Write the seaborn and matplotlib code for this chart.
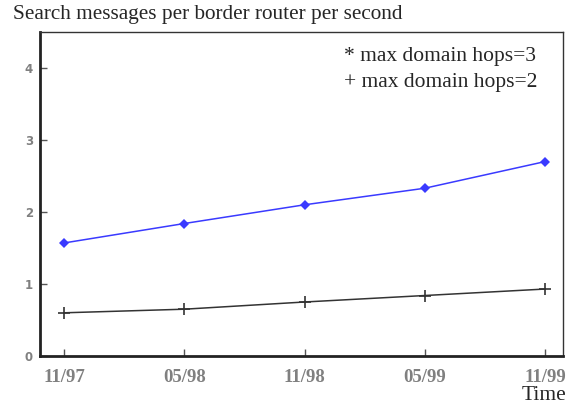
import numpy as np
import pandas as pd
import matplotlib
matplotlib.use('Agg')
import matplotlib.pyplot as plt
import seaborn as sns

periods = ['11/97', '05/98', '11/98', '05/99', '11/99']
hops3 = [1.57, 1.84, 2.10, 2.33, 2.70]
hops2 = [0.60, 0.65, 0.75, 0.84, 0.93]
y_ticks = [0, 1, 2, 3, 4]

pos = list(range(len(periods)))

sns.set_style('white')
plt.rcParams['font.family'] = ['DejaVu Sans']

fig = plt.figure(figsize=(5.74, 4.07), dpi=100)
ax = fig.add_axes([40 / 574, 51 / 407, 523 / 574, 324 / 407])

sns.lineplot(x=pos, y=hops3, color='#3a3aff', marker='D', markersize=5.5,
             markeredgewidth=0, linewidth=1.1, ax=ax)
sns.lineplot(x=pos, y=hops2, color='#333333', marker='+', markersize=8,
             markeredgecolor='#333333', markeredgewidth=1.2,
             linewidth=1.1, ax=ax)

ax.set_xlim(-0.2, 4.15)
ax.set_ylim(0, 4.5)
ax.set_xticks(pos)
ax.set_xticklabels(periods, family='Liberation Serif', fontweight='bold',
                   fontsize=13.5, color='#808080')
ax.set_yticks(y_ticks)
ax.set_yticklabels([str(t) for t in y_ticks], fontsize=8.5, fontweight='bold',
                   color='#808080')
ax.tick_params(axis='both', direction='in', length=5, width=1, color='#555555',
               left=True, bottom=True)
ax.tick_params(axis='x', pad=9)
ax.tick_params(axis='y', pad=5)
ax.set_xlabel('')
ax.set_ylabel('')

for side in ['left', 'bottom']:
    ax.spines[side].set_linewidth(2)
    ax.spines[side].set_color('#222222')
for side in ['top', 'right']:
    ax.spines[side].set_linewidth(1)
    ax.spines[side].set_color('#333333')

ax.text(304 / 523, 1 - 24 / 324, '* max domain hops=3', transform=ax.transAxes,
        family='Liberation Serif', fontsize=15.5, va='center')
ax.text(304 / 523, 1 - 51 / 324, '+ max domain hops=2', transform=ax.transAxes,
        family='Liberation Serif', fontsize=15.5, va='center')

fig.text(13 / 574, 1 - 15 / 407, 'Search messages per border router per second',
         family='Liberation Serif', fontsize=15.3, va='center')
fig.text(566 / 574, 1 - 395 / 407, 'Time', family='Liberation Serif',
         fontsize=15.5, ha='right', va='center')

fig.savefig('out.png', dpi=100)
